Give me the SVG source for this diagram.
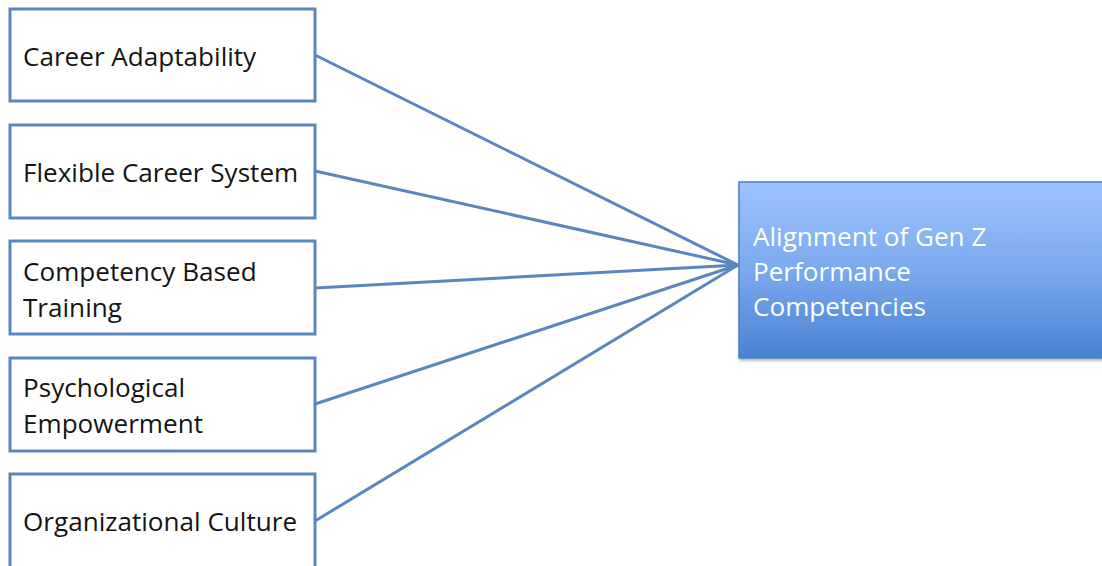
<svg xmlns="http://www.w3.org/2000/svg" width="1102" height="566" viewBox="0 0 1102 566">
<defs>
<linearGradient id="g" x1="0" y1="0" x2="0" y2="1">
<stop offset="0" stop-color="#9DC3FF"/>
<stop offset="0.5" stop-color="#7BA9EE"/>
<stop offset="1" stop-color="#4A82D0"/>
</linearGradient>
<filter id="sh" x="-5%" y="-5%" width="110%" height="115%">
<feDropShadow dx="1" dy="2" stdDeviation="1.5" flood-color="#000" flood-opacity="0.3"/>
</filter>
</defs>
<style>
.box{fill:#fff;stroke:#5A86C0;stroke-width:3}
.t{font-family:"Open Sans","Noto Sans",sans-serif;font-size:26.1px;fill:#141414}
.tw{font-family:"Open Sans","Noto Sans",sans-serif;font-size:26.1px;fill:#fff}
.c{stroke:#5A86C0;stroke-width:3;fill:none}
</style>
<rect width="1102" height="566" fill="#fff"/>
<g id="connectors">
<line class="c" x1="315" y1="55" x2="738" y2="265"/>
<line class="c" x1="315" y1="171" x2="738" y2="265"/>
<line class="c" x1="315" y1="288" x2="738" y2="265"/>
<line class="c" x1="315" y1="404" x2="738" y2="265"/>
<line class="c" x1="315" y1="521" x2="738" y2="265"/>
</g>
<g id="n1"><rect class="box" x="10" y="9" width="305" height="92"/><text class="t" x="23" y="65.5">Career Adaptability</text></g>
<g id="n2"><rect class="box" x="10" y="125" width="305" height="93"/><text class="t" x="23" y="182">Flexible Career System</text></g>
<g id="n3"><rect class="box" x="10" y="241" width="305" height="93"/><text class="t" x="23" y="281">Competency Based</text><text class="t" x="23" y="316.5">Training</text></g>
<g id="n4"><rect class="box" x="10" y="358" width="305" height="93"/><text class="t" x="23" y="397">Psychological</text><text class="t" x="23" y="432.5">Empowerment</text></g>
<g id="n5"><rect class="box" x="10" y="474" width="305" height="100"/><text class="t" x="23" y="530.5">Organizational Culture</text></g>
<g id="target"><rect x="739" y="182" width="370" height="176" fill="url(#g)" stroke="#4F7FC0" stroke-width="1.5" filter="url(#sh)"/><text class="tw" x="753" y="245.5">Alignment of Gen Z</text><text class="tw" x="753" y="281">Performance</text><text class="tw" x="753" y="316">Competencies</text></g>
</svg>
